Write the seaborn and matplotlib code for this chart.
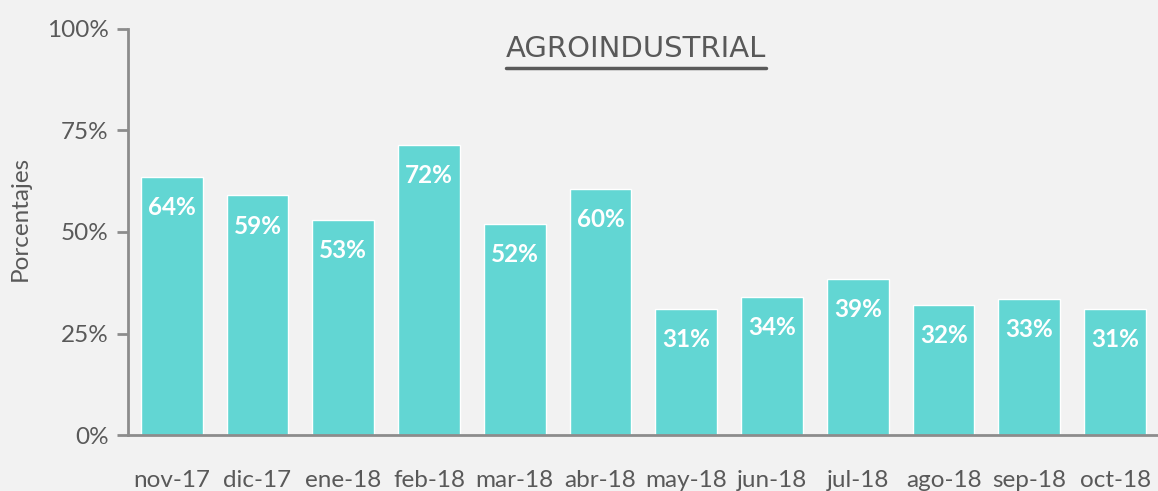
import numpy as np
import pandas as pd
import matplotlib
matplotlib.use('Agg')
import matplotlib.pyplot as plt
import seaborn as sns

months = ['nov-17', 'dic-17', 'ene-18', 'feb-18', 'mar-18', 'abr-18',
          'may-18', 'jun-18', 'jul-18', 'ago-18', 'sep-18', 'oct-18']
values = [63.5, 59.0, 53.0, 71.5, 52.0, 60.5, 31.0, 34.0, 38.5, 32.0, 33.5, 31.0]
labels = ['64%', '59%', '53%', '72%', '52%', '60%', '31%', '34%', '39%', '32%', '33%', '31%']
yticks = [0, 25, 50, 75, 100]
ytick_labels = ['0%', '25%', '50%', '75%', '100%']

bg = '#f2f2f2'
barColor = '#62d6d3'
textColor = '#595959'
axisColor = '#8c8c8c'

sns.set_style('white')
plt.rcParams['font.family'] = ['Lato', 'DejaVu Sans']

df = pd.DataFrame({'mes': months, 'valor': values})

fig = plt.figure(figsize=(11.58, 4.91), dpi=100, facecolor=bg)
ax = fig.add_axes([128 / 1158, 1 - 435 / 491, 1 - 128 / 1158, (435 - 29) / 491])
ax.set_facecolor(bg)

sns.barplot(data=df, x='mes', y='valor', color=barColor, width=0.72,
            saturation=1, ax=ax)

# labels inside bars, a bit below the top
for i, p in enumerate(ax.patches):
    ax.annotate(labels[i], (p.get_x() + p.get_width() / 2, p.get_height()),
                xytext=(0, -22), textcoords='offset points',
                ha='center', va='center', color='white',
                fontsize=17.5, fontweight='bold')

ax.set_ylim(0, 100)
ax.set_xlim(-0.51, 11.5)
ax.set_yticks(yticks)
ax.set_yticklabels(ytick_labels)
ax.set_xlabel('')
ax.set_ylabel('Porcentajes', fontsize=17.5, color=textColor)
ax.yaxis.set_label_coords(-0.094, 0.534)

for s in ['top', 'right']:
    ax.spines[s].set_visible(False)
for s in ['left', 'bottom']:
    ax.spines[s].set_color(axisColor)
    ax.spines[s].set_linewidth(2)

ax.tick_params(axis='y', which='major', length=8, width=2, color=axisColor,
               labelsize=17.5, labelcolor=textColor, pad=6, left=True)
ax.tick_params(axis='x', length=0, labelsize=17.5, labelcolor=textColor, pad=25)

# title with underline
title = fig.text(636 / 1158, 1 - 49 / 491, 'AGROINDUSTRIAL', ha='center', va='center',
                 fontsize=21, color=textColor, family=['DejaVu Sans'])
fig.canvas.draw()
bb = title.get_window_extent().transformed(fig.transFigure.inverted())
fig.add_artist(plt.Line2D([bb.x0, bb.x1], [bb.y0 - 0.01, bb.y0 - 0.01],
                          transform=fig.transFigure, color=textColor, linewidth=2.5))

fig.savefig('out.png', dpi=100, facecolor=bg)
